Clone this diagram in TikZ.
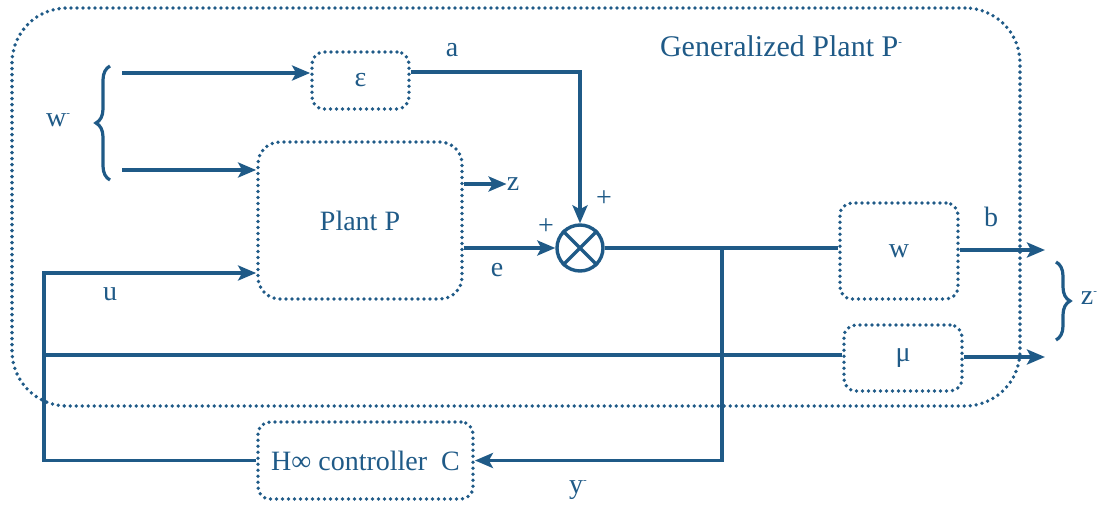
\documentclass[tikz,border=0pt]{standalone}
\usepackage{fontspec}
\setmainfont{Liberation Serif}
\usetikzlibrary{arrows.meta,decorations.pathreplacing}
\definecolor{pb}{RGB}{31,90,135}
\newcommand\sdash{\raisebox{0.75ex}{\fontsize{11}{11}\selectfont -}}
\begin{document}
\begin{tikzpicture}[x=1pt,y=-1pt, font=\fontsize{28}{32}\selectfont,
  dotbox/.style={draw=pb, line width=3.8pt, dash pattern=on 0pt off 6pt, line cap=round, rounded corners=12pt, text=pb, inner sep=0pt},
  conn/.style={draw=pb, line width=3.4pt},
  arr/.style={conn, -{Stealth[length=18pt,width=15pt,inset=4pt]}},
  lbl/.style={text=pb, inner sep=0pt},
  brc/.style={draw=pb, line width=3.2pt, decorate, decoration={brace, amplitude=14pt}}]
\useasboundingbox (0,0) rectangle (1104,508);
% boxes
\node[dotbox, minimum width=1008pt, minimum height=398pt, rounded corners=55pt] (gp) at (516,207) {};
\node[dotbox, minimum width=97pt, minimum height=57pt] (eps) at (360.5,80.5) {ε};
\node[dotbox, minimum width=204pt, minimum height=157pt, rounded corners=22pt] (plant) at (360,220.5) {Plant P};
\node[draw=pb, line width=3.4pt, circle, minimum size=46pt, inner sep=0pt] (cx) at (580,248) {};
\draw[pb, line width=3.4pt] (cx.45) -- (cx.225) (cx.135) -- (cx.315);
\node[dotbox, minimum width=118pt, minimum height=96pt] (wbox) at (899,251) {w};
\node[dotbox, minimum width=118pt, minimum height=66pt] (mu) at (903,358) {μ};
\node[dotbox, minimum width=215pt, minimum height=77pt] (ctrl) at (365.5,460.5) {H∞ controller\ \ C};
% labels
\node[lbl, font=\fontsize{30}{34}\selectfont] (title) at (781,46) {Generalized Plant P\sdash};
\node[lbl] (wl) at (58,120) {w\sdash};
\node[lbl] (al) at (452,50) {a};
\node[lbl] (zl) at (513,184) {z};
\node[lbl] (el) at (497,270) {e};
\node[lbl] (p1) at (546,227) {+};
\node[lbl] (p2) at (604,199) {+};
\node[lbl] (ul) at (110,294) {u};
\node[lbl] (bl) at (991,217) {b};
\node[lbl] (yl) at (578,490) {y\sdash};
\node[lbl] (zr) at (1089,298) {z\sdash};
% coordinates
\coordinate (w1s) at (122,73);
\coordinate (w2s) at (122,170);
\coordinate (j) at (722,248);
\coordinate (uc) at (44,273);
\coordinate (mc) at (44,355);
\coordinate (bo) at (1045,250);
\coordinate (mo) at (1045,357);
% connectors
\draw[arr] (w1s) -- (eps.west |- w1s);
\draw[arr] (w2s) -- (plant.west |- w2s);
\draw[arr] (eps.east |- 0,72) -| (cx.north);
\draw[arr] (plant.east |- zl.west) -- (zl.west);
\draw[arr] (plant.east |- cx) -- (cx.west);
\draw[conn] (cx.east) -- (wbox.west |- cx);
\draw[arr] (j) |- (ctrl.east);
\draw[arr] (ctrl.west) -| (uc) -- (plant.west |- uc);
\draw[conn] (mc) -- (mu.west |- mc);
\draw[arr] (wbox.east |- bo) -- (bo);
\draw[arr] (mu.east |- mo) -- (mo);
% braces
\draw[brc] (110,180) -- (110,66);
\draw[brc] (1056,262) -- (1056,340);
\end{tikzpicture}
\end{document}
